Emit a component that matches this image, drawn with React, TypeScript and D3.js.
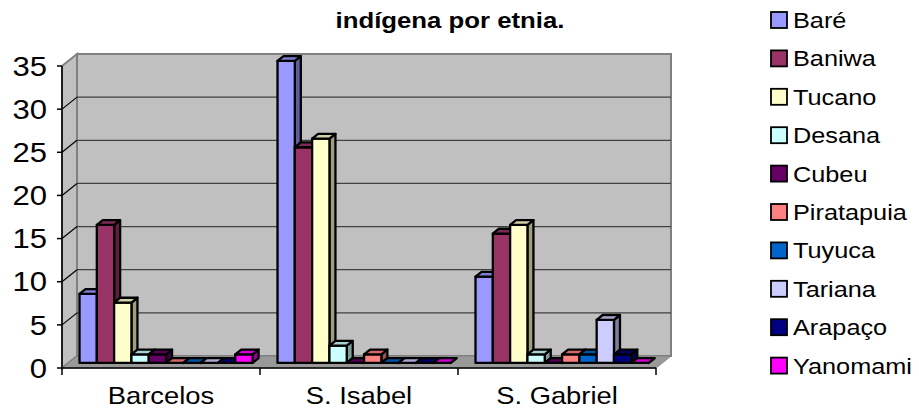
import React from "react";
import * as d3 from "d3";

// chart data
const categories = ["Barcelos", "S. Isabel", "S. Gabriel"];
const series = ["Baré", "Baniwa", "Tucano", "Desana", "Cubeu", "Piratapuia", "Tuyuca", "Tariana", "Arapaço", "Yanomami"];
const seriesColors = ["#9999FF", "#993366", "#FFFFCC", "#CCFFFF", "#660066", "#FF8080", "#0066CC", "#CCCCFF", "#000080", "#FF00FF"];
const bare = [8, 35, 10];
const baniwa = [16, 25, 15];
const tucano = [7, 26, 16];
const desana = [1, 2, 1];
const cubeu = [1, 0, 0];
const piratapuia = [0, 1, 1];
const tuyuca = [0, 0, 1];
const tariana = [0, 0, 5];
const arapaco = [0, 0, 1];
const yanomami = [1, 0, 0];
const seriesValues = [bare, baniwa, tucano, desana, cubeu, piratapuia, tuyuca, tariana, arapaco, yanomami];
const yTicks = [0, 5, 10, 15, 20, 25, 30, 35];
const titleText = "indígena por etnia.";

const W = 919;
const H = 412;
const font = "'Liberation Sans', Arial, sans-serif";
const sx = 1.15; // text in the picture is stretched sideways

// 3d depth vector for the full floor
const DX = 15;
const DY = -12;
const F1 = 0.42; // bar front depth
const F2 = 0.82; // bar back depth

const App = () => {
  const plotLeft = 62;
  const plotRight = 656;

  const y = d3.scaleLinear().domain([0, 35]).range([368, 66]);
  const x0 = d3.scaleBand<string>().domain(categories).range([plotLeft, plotRight]);
  const x1 = d3
    .scaleBand<string>()
    .domain(series)
    .range([0, x0.bandwidth()])
    .paddingOuter(0.72)
    .align(0.45);

  const P = (xf: number, v: number, f: number) => [xf + DX * f, y(v) + DY * f];
  const pts = (arr: number[][]) => arr.map((p) => p.join(",")).join(" ");

  const wall = pts([P(plotLeft, 0, 1), P(plotLeft, 35, 1), P(plotRight, 35, 1), P(plotRight, 0, 1)]);
  const sideWall = pts([P(plotLeft, 0, 0), P(plotLeft, 35, 0), P(plotLeft, 35, 1), P(plotLeft, 0, 1)]);
  const floor = pts([P(plotLeft, 0, 0), P(plotRight, 0, 0), P(plotRight, 0, 1), P(plotLeft, 0, 1)]);

  const bars: JSX.Element[] = [];
  categories.forEach((c, ci) => {
    series.forEach((s, si) => {
      const v = seriesValues[si][ci];
      const xa = (x0(c) as number) + (x1(s) as number);
      const xb = xa + x1.bandwidth();
      const col = d3.color(seriesColors[si]) as d3.RGBColor;
      const side = d3.rgb(col.r * 0.62, col.g * 0.62, col.b * 0.62).toString();
      const top = d3.rgb(col.r * 0.82, col.g * 0.82, col.b * 0.82).toString();
      bars.push(
        <g key={c + s} stroke="#000" strokeWidth={2.3} strokeLinejoin="round">
          <polygon points={pts([P(xb, 0, F1), P(xb, 0, F2), P(xb, v, F2), P(xb, v, F1)])} fill={side} />
          <polygon points={pts([P(xa, 0, F1), P(xb, 0, F1), P(xb, v, F1), P(xa, v, F1)])} fill={seriesColors[si]} />
          <polygon points={pts([P(xa, v, F1), P(xb, v, F1), P(xb, v, F2), P(xa, v, F2)])} fill={top} />
        </g>
      );
    });
  });

  return (
    <svg width={W} height={H} style={{ position: "absolute", left: 0, top: 0, background: "#fff" }} fontFamily={font}>
      {/* title */}
      <text transform={`translate(450,28) scale(${sx},1)`} textAnchor="middle" fontSize={22.4} fontWeight="bold">
        {titleText}
      </text>

      {/* walls */}
      <polygon points={sideWall} fill="#C0C0C0" stroke="#808080" strokeWidth={2} />
      <polygon points={wall} fill="#C0C0C0" stroke="#808080" strokeWidth={2} />
      <polygon points={floor} fill="#999999" stroke="#808080" strokeWidth={1} />

      {/* gridlines on back wall and side slants */}
      {yTicks.map((t) => {
        const a = P(plotLeft, t, 1);
        const b = P(plotRight, t, 1);
        const s0 = P(plotLeft, t, 0);
        return (
          <g key={t}>
            {t > 0 && t < 35 && <line x1={a[0]} y1={a[1]} x2={b[0]} y2={b[1]} stroke="#404040" strokeWidth={1.3} />}
            {t > 0 && t < 35 && <line x1={s0[0]} y1={s0[1]} x2={a[0]} y2={a[1]} stroke="#000" strokeWidth={1.2} />}
          </g>
        );
      })}

      {bars}

      {/* y axis */}
      <line x1={plotLeft} y1={y(0)} x2={plotLeft} y2={y(35)} stroke="#000" strokeWidth={1.5} />
      {yTicks.map((t) => (
        <g key={t}>
          <line x1={plotLeft - 5} y1={y(t)} x2={plotLeft} y2={y(t)} stroke="#000" strokeWidth={1.5} />
          <text transform={`translate(47,${y(t)}) scale(${sx},1)`} textAnchor="end" dy="0.36em" fontSize={27}>
            {t}
          </text>
        </g>
      ))}

      {/* x axis */}
      <line x1={plotLeft} y1={y(0)} x2={plotRight} y2={y(0)} stroke="#000" strokeWidth={1.5} />
      {[...categories.map((c) => x0(c) as number), plotRight].map((xv, i) => (
        <line key={i} x1={xv} y1={y(0)} x2={xv} y2={y(0) + 7} stroke="#000" strokeWidth={1.5} />
      ))}
      {categories.map((c) => (
        <text
          key={c}
          transform={`translate(${(x0(c) as number) + x0.bandwidth() / 2},404) scale(${sx},1)`}
          textAnchor="middle"
          fontSize={23.8}
        >
          {c}
        </text>
      ))}

      {/* legend */}
      {series.map((s, i) => {
        const cy = 20 + i * 38.4;
        return (
          <g key={s}>
            <rect x={771} y={cy - 8} width={16} height={16} fill={seriesColors[i]} stroke="#000" strokeWidth={1.8} />
            <text transform={`translate(793,${cy + 8}) scale(${sx},1)`} fontSize={22}>
              {s}
            </text>
          </g>
        );
      })}
    </svg>
  );
};

export default App;
